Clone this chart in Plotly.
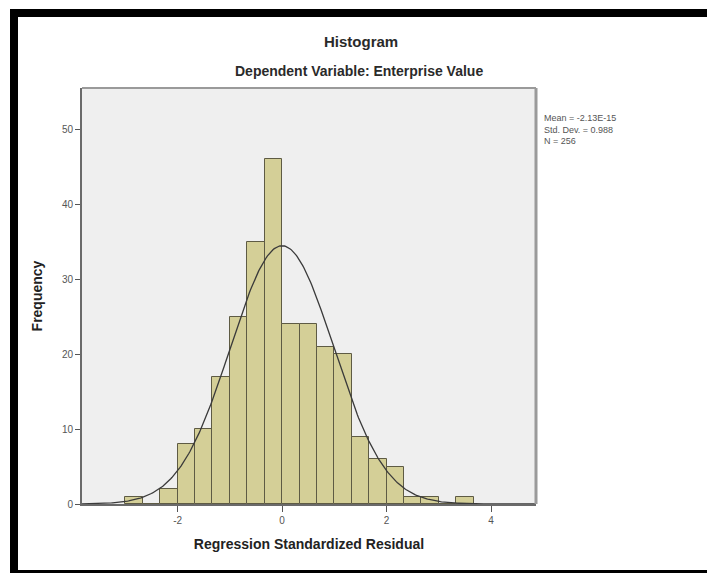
import numpy as np
import plotly.graph_objects as go

# ---- data ----
bin_start = -3.0
bin_width = 1.0 / 3.0
counts = [1, 0, 2, 8, 10, 17, 25, 35, 46, 24, 24, 21, 20, 9, 6, 5, 1, 1, 0, 1]
fit_mean = -2.13e-15
fit_sd = 0.988
fit_n = 256
x_ticks = [-2, 0, 2, 4]
y_ticks = [0, 10, 20, 30, 40, 50]
stats_lines = ["Mean = -2.13E-15", "Std. Dev. = 0.988", "N = 256"]

# ---- layout geometry (pixels) ----
W, H = 707, 573
L, T = 82, 88
R = W - 536
B = H - 504
PW, PH = W - L - R, H - T - B


def px(xs_):
    return (xs_ - L) / PW


def py(ys_):
    return (H - B - ys_) / PH


centers = [bin_start + bin_width * (i + 0.5) for i in range(len(counts))]

xr = [-3.83, 4.86]
xs = np.linspace(xr[0], xr[1], 400)
ys = fit_n * bin_width * np.exp(-0.5 * ((xs - fit_mean) / fit_sd) ** 2) / (fit_sd * np.sqrt(2 * np.pi))

fig = go.Figure()
fig.add_trace(go.Bar(
    x=centers, y=counts, width=bin_width,
    marker=dict(color="#D4CF97", line=dict(color="#5E5B44", width=1)),
    hoverinfo="x+y", showlegend=False,
))
fig.add_trace(go.Scatter(
    x=xs, y=ys, mode="lines",
    line=dict(color="#3a3a3a", width=1.3),
    hoverinfo="skip", showlegend=False,
))

font_fam = "Arial, Liberation Sans, sans-serif"

shapes = [
    dict(type="line", xref="paper", yref="paper", x0=0, x1=1, y0=1, y1=1,
         line=dict(color="#9a9a9a", width=2)),
    dict(type="line", xref="paper", yref="paper", x0=1, x1=1, y0=0, y1=1,
         line=dict(color="#9a9a9a", width=3)),
    # black page border: top, left, bottom
    dict(type="rect", xref="paper", yref="paper", x0=px(10), x1=px(707),
         y0=py(17), y1=py(9), fillcolor="black", line=dict(width=0)),
    dict(type="rect", xref="paper", yref="paper", x0=px(10), x1=px(18),
         y0=py(573), y1=py(9), fillcolor="black", line=dict(width=0)),
    dict(type="rect", xref="paper", yref="paper", x0=px(10), x1=px(707),
         y0=py(573), y1=py(570), fillcolor="black", line=dict(width=0)),
]

annotations = [
    dict(text="<b>Histogram</b>", xref="paper", yref="paper",
         x=px(361), y=py(42), xanchor="center", yanchor="middle", showarrow=False,
         font=dict(family=font_fam, size=15, color="#2a2a2a")),
    dict(text="<b>Dependent Variable: Enterprise Value</b>", xref="paper", yref="paper",
         x=px(359), y=py(71), xanchor="center", yanchor="middle", showarrow=False,
         font=dict(family=font_fam, size=14, color="#2a2a2a")),
    dict(text="<br>".join(stats_lines), xref="paper", yref="paper",
         x=px(542), y=py(111), xanchor="left", yanchor="top", align="left",
         showarrow=False, font=dict(family=font_fam, size=9, color="#555555")),
]

fig.update_layout(
    width=W, height=H,
    margin=dict(l=L, r=R, t=T, b=B, pad=0),
    paper_bgcolor="white",
    plot_bgcolor="#EFEFEF",
    bargap=0,
    shapes=shapes,
    annotations=annotations,
    font=dict(family=font_fam),
    xaxis=dict(
        range=xr, tickvals=x_ticks, ticktext=[str(v) for v in x_ticks],
        showgrid=False, zeroline=False,
        showline=True, linecolor="#6a6a6a", linewidth=2,
        ticks="outside", ticklen=6, tickcolor="#555555", tickwidth=1,
        tickfont=dict(size=10, color="#555555", family=font_fam),
        title=dict(text="<b>Regression Standardized Residual</b>",
                   font=dict(size=14, color="#222222", family=font_fam), standoff=14),
    ),
    yaxis=dict(
        range=[0, 55.5], tickvals=y_ticks, ticktext=[str(v) for v in y_ticks],
        showgrid=False, zeroline=False,
        showline=True, linecolor="#6a6a6a", linewidth=2,
        ticks="outside", ticklen=5, tickcolor="#555555", tickwidth=1,
        tickfont=dict(size=10, color="#555555", family=font_fam),
        title=dict(text="<b>Frequency</b>",
                   font=dict(size=14, color="#222222", family=font_fam), standoff=16),
    ),
)

fig.write_html(
    "out.html",
    config={"displayModeBar": False},
    post_script=(
        "document.body.style.margin='0';"
        "document.body.style.overflow='hidden';"
        "document.documentElement.style.overflow='hidden';"
    ),
)
